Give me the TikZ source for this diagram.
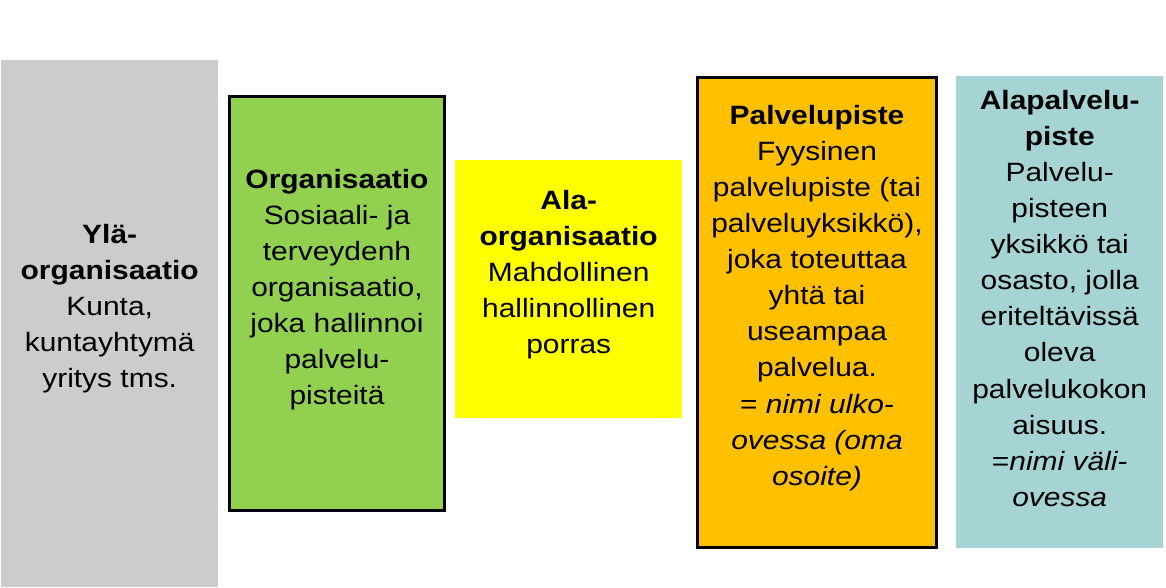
\documentclass[tikz,border=0pt]{standalone}
\usepackage{fontspec}
\setmainfont{Liberation Sans}[FakeStretch=1.13]

\definecolor{ylagray}{HTML}{CCCCCC}
\definecolor{orggreen}{HTML}{92D050}
\definecolor{alayellow}{HTML}{FFFF00}
\definecolor{pisteorange}{HTML}{FFC000}
\definecolor{alateal}{HTML}{A6D4D4}

\newcommand{\firstline}{\rule{0pt}{20pt}}

\tikzset{
    levelbox/.style={anchor=north west, inner sep=0pt},
    framed/.style={draw=black, line width=3pt},
    leveltext/.style={anchor=north, align=center, inner sep=0pt,
        font=\fontsize{26.5pt}{36.1pt}\selectfont},
}

\begin{document}
\begin{tikzpicture}
            \begin{scope}[x=1pt,y=-1pt]
            \useasboundingbox (0,0) rectangle (1166,588);

            % the five levels, left to right
            \node[levelbox, fill=ylagray, minimum width=217pt, minimum height=527pt] (yla) at (1,60) {};
            \node[levelbox, framed, fill=orggreen, minimum width=215pt, minimum height=414pt] (org) at (228,95) {};
            \node[levelbox, fill=alayellow, minimum width=227pt, minimum height=258pt] (ala) at (455,160) {};
            \node[levelbox, framed, fill=pisteorange, minimum width=239pt, minimum height=470pt] (piste) at (696,76) {};
            \node[levelbox, fill=alateal, minimum width=207pt, minimum height=472pt] (alapiste) at (956,76) {};

            % texts
            \node[leveltext] (ylatext) at ([yshift=-163pt]yla.north) {\firstline\textbf{Ylä-}\\ \textbf{organisaatio}\\ Kunta,\\ kuntayhtymä\\ yritys tms.};
            \node[leveltext] (orgtext) at ([yshift=-73pt]org.north) {\firstline\textbf{Organisaatio}\\ Sosiaali- ja\\ terveydenh\\ organisaatio,\\ joka hallinnoi\\ palvelu-\\ pisteitä};
            \node[leveltext] (alatext) at ([yshift=-29pt]ala.north) {\firstline\textbf{Ala-}\\ \textbf{organisaatio}\\ Mahdollinen\\ hallinnollinen\\ porras};
            \node[leveltext] (pistetext) at ([yshift=-28pt]piste.north) {\firstline\textbf{Palvelupiste}\\ Fyysinen\\ palvelupiste (tai\\ palveluyksikkö),\\ joka toteuttaa\\ yhtä tai\\ useampaa\\ palvelua.\\ = \textit{nimi ulko-}\\ \textit{ovessa (oma}\\ \textit{osoite)}};
            \node[leveltext] (alapistetext) at ([yshift=-13pt]alapiste.north) {\firstline\textbf{Alapalvelu-}\\ \textbf{piste}\\ Palvelu-\\ pisteen\\ yksikkö tai\\ osasto, jolla\\ eriteltävissä\\ oleva\\ palvelukokon\\ aisuus.\\ =\textit{nimi väli-}\\ \textit{ovessa}};
            \end{scope}
        \end{tikzpicture}
\end{document}
